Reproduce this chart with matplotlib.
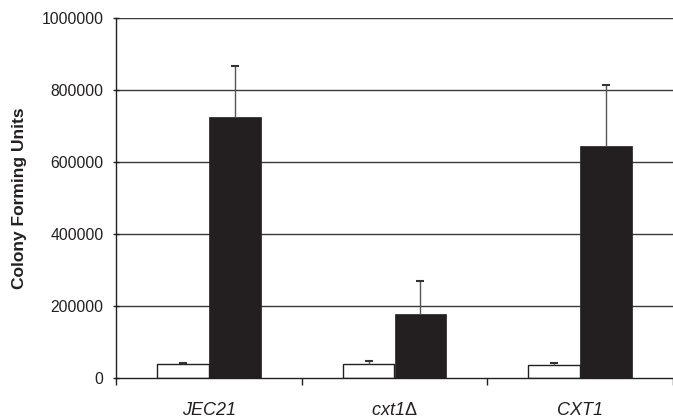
import matplotlib.pyplot as plt
import numpy as np

plt.rcParams['font.family'] = ['Liberation Sans', 'DejaVu Sans']
plt.rcParams['mathtext.fontset'] = 'custom'
plt.rcParams['mathtext.rm'] = 'Liberation Sans:italic'
plt.rcParams['mathtext.sf'] = 'Liberation Sans'

strains = ["JEC21", r"$\mathrm{cxt1}\mathsf{\Delta}$", "CXT1"]
cfu_white = [40000, 40000, 37000]
err_white = [2000, 8000, 4000]
cfu_black = [725000, 177000, 645000]
err_black = [143000, 92000, 170000]
yticks = [0, 200000, 400000, 600000, 800000, 1000000]

dark = '#231f20'

fig = plt.figure(figsize=(6.73, 4.19), dpi=100)
ax = fig.add_axes([116/673, 1-378/419, 1-116/673, 360/419])

x = np.arange(len(strains)) + 0.5
w = 0.28

for yv in yticks[1:]:
    ax.axhline(yv, color='#3a3a3a', lw=1.0, zorder=0)

ax.bar(x - w/2, cfu_white, w, color='white', edgecolor=dark, lw=1.0, zorder=2)
ax.bar(x + w/2, cfu_black, w, color=dark, edgecolor=dark, lw=0.5, zorder=2)

# upward-only error bars with a cap at the top
for xs, vals, errs in [(x - w/2, cfu_white, err_white), (x + w/2, cfu_black, err_black)]:
    tops = np.array(vals) + np.array(errs)
    ax.vlines(xs, vals, tops, color='#555555', lw=1.0, zorder=3)
    ax.plot(xs, tops, ls='none', marker='_', ms=6, mew=1.5, color='#333333', zorder=3)

ax.set_xlim(0, 3)
ax.set_ylim(0, 1000000)

ax.set_yticks(yticks)
ax.set_yticklabels([str(v) for v in yticks])
ax.tick_params(axis='y', direction='inout', length=5, width=1, color=dark,
               labelsize=11.3, labelcolor='#231f20', pad=6.5)

ax.set_xticks([0, 1, 2, 3])
ax.set_xticklabels([])
ax.set_xticks(x, minor=True)
ax.set_xticklabels(strains, minor=True, style='italic', fontsize=13, color='#231f20')
ax.tick_params(axis='x', which='major', direction='out', length=5, width=1, color=dark)
ax.tick_params(axis='x', which='minor', length=0, pad=17)

for s in ['top', 'right']:
    ax.spines[s].set_visible(False)
ax.spines['left'].set_color(dark)
ax.spines['bottom'].set_color(dark)
ax.spines['left'].set_linewidth(1)
ax.spines['bottom'].set_linewidth(1)

ax.set_ylabel("Colony Forming Units", fontsize=12.5, fontweight='bold', color='#231f20')
ax.yaxis.set_label_coords((27 - 116) / 557, 0.5)

fig.savefig("out.png", dpi=100)
